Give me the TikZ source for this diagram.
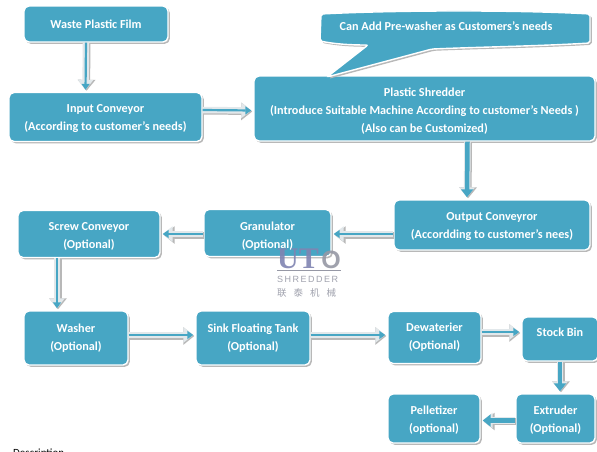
\documentclass[tikz,border=0pt]{standalone}
\usepackage{fontspec}
\setmainfont{Carlito}
\newfontfamily\cjk{Noto Sans CJK SC}
\usetikzlibrary{arrows.meta,shadows,positioning}
\definecolor{uto_teal}{RGB}{71,166,196}
\definecolor{uto_rim}{RGB}{226,232,235}
\definecolor{uto_mark}{RGB}{150,152,165}
\definecolor{uto_blue}{RGB}{128,132,178}
\newcommand{\boxgap}[1]{\mbox{}\\[#1]}
\tikzset{
  flowbox/.style={draw=white,line width=1.4pt,fill=uto_teal,rounded corners=5pt,text=white,font=\bfseries\fontsize{12.2}{18}\selectfont,align=center,inner sep=0pt,drop shadow={shadow xshift=1.8pt,shadow yshift=-1.8pt,fill=black!28,opacity=1}},
  flowline/.style={preaction={draw=black!28,line width=7pt,-{Triangle[width=17pt,length=11pt]},transform canvas={xshift=1pt,yshift=-1pt}},preaction={draw=uto_rim,line width=6.5pt,-{Triangle[width=15pt,length=10pt]}},draw=uto_teal,line width=2.2pt,-{Triangle[width=8pt,length=6pt]},shorten >=2pt},
  flowthick/.style={flowline,line width=4.5pt,-{Triangle[width=12pt,length=8pt]}},
  markfont/.style={text=uto_mark,inner sep=0pt,opacity=0.9}
}
\begin{document}
\begin{tikzpicture}[x=1pt,y=-1pt]
  \useasboundingbox (0,0) rectangle (597,451);
  \fill[white] (0,0) rectangle (597,451);
  \node[flowbox,minimum width=144pt,minimum height=36pt] (waste) at (96,24) {Waste Plastic Film};
  \node[flowbox,minimum width=193pt,minimum height=49pt] (input) at (105.5,117) {\boxgap{-6pt}Input Conveyor\\(According to customer’s needs)};
  \node[flowbox,minimum width=341pt,minimum height=65pt] (shredder) at (424.5,108.5) {\boxgap{-4pt}Plastic Shredder\\(Introduce Suitable Machine According to customer’s Needs )\\(Also can be Customized)};
  \fill[black!28,rounded corners=2pt,shift={(1.8,1.8)}] (321,14) .. controls (400,10) and (520,10) .. (590,14) -- (590,43) .. controls (540,46) and (480,47) .. (432,49) -- (327,77) -- (368,45) .. controls (350,45) and (335,44) .. (320,41) -- cycle;
  \draw[white,fill=uto_teal,line width=1.4pt,rounded corners=2pt] (321,14) .. controls (400,10) and (520,10) .. (590,14) -- (590,43) .. controls (540,46) and (480,47) .. (432,49) -- (327,77) -- (368,45) .. controls (350,45) and (335,44) .. (320,41) -- cycle;
  \node[text=white,font=\bfseries\fontsize{12.2}{18}\selectfont,inner sep=0pt] (addwasher) at (446,26) {Can Add Pre-washer as Customers’s needs};
  \node[flowbox,minimum width=196pt,minimum height=50pt] (output) at (492,225) {\boxgap{-6pt}Output Conveyror\\(Accordding to customer’s nees)};
  \node[flowbox,minimum width=127pt,minimum height=47pt] (granulator) at (267.5,233) {\boxgap{-4pt}Granulator\\(Optional)};
  \node[flowbox,minimum width=142pt,minimum height=47pt] (screw) at (89,234) {\boxgap{-6pt}Screw Conveyor\\(Optional)};
  \node[flowbox,minimum width=104pt,minimum height=54pt] (washer) at (76,338) {Washer\\(Optional)};
  \node[flowbox,minimum width=114pt,minimum height=54pt] (sink) at (253,338) {Sink Floating Tank\\(Optional)};
  \node[flowbox,minimum width=93pt,minimum height=52pt] (dewaterier) at (434.5,337.5) {Dewaterier\\(Optional)};
  \node[flowbox,minimum width=76pt,minimum height=44pt] (stock) at (560,339) {\boxgap{-4pt}Stock Bin\\\phantom{(Optional)}};
  \node[flowbox,minimum width=79pt,minimum height=49pt] (extruder) at (555.5,418.5) {\boxgap{-6pt}Extruder\\(Optional)};
  \node[flowbox,minimum width=92pt,minimum height=49pt] (pelletizer) at (434,418.5) {\boxgap{-6pt}Pelletizer\\(optional)};
  \draw[flowline] ([xshift=-10pt]waste.south) -- ([xshift=-20pt]input.north);
  \draw[flowline] ([yshift=7pt]input.east) -- ([yshift=-2pt]shredder.west);
  \draw[flowthick] ([xshift=43pt]shredder.south) -- ([xshift=-25pt]output.north);
  \draw[flowline] ([yshift=-9pt]output.west) -- ([yshift=-1pt]granulator.east);
  \draw[flowline] ([yshift=-1pt]granulator.west) -- (screw.east);
  \draw[flowline] ([xshift=-32pt]screw.south) -- ([xshift=-19pt]washer.north);
  \draw[flowline] ([yshift=3pt]washer.east) -- ([yshift=3pt]sink.west);
  \draw[flowline] ([yshift=3pt]sink.east) -- ([yshift=2.5pt]dewaterier.west);
  \draw[flowline] ([yshift=5.5pt]dewaterier.east) -- ([yshift=7pt]stock.west);
  \draw[flowthick] (stock.south) -- ([xshift=4.5pt]extruder.north);
  \draw[flowthick] ([yshift=-2pt]extruder.west) -- ([yshift=-2pt]pelletizer.east);
  \node[markfont,text=uto_blue,font=\bfseries\fontspec{Liberation Serif}\fontsize{30}{30}\selectfont,anchor=base west] (markut) at (277,268.5) {UT};
  \node[markfont,font=\bfseries\fontspec{Liberation Sans}\fontsize{25}{25}\selectfont,anchor=base east] (marko) at (341,268.5) {O};
  \draw[uto_mark,line width=1.2pt] (markut.base west) ++(0,2) -- (341,270.5);
  \node[markfont,font=\fontspec{Liberation Sans}\fontsize{9}{9}\selectfont,anchor=west] (markname) at (277,279.5) {S\,H\,R\,E\,D\,D\,E\,R};
  \node[markfont,font=\cjk\fontsize{9.5}{9.5}\selectfont,anchor=west] (markcn) at (277,293) {联\hspace{7pt}泰\hspace{7pt}机\hspace{7pt}械};
  \node[font=\fontsize{11}{13}\selectfont,anchor=base west,inner sep=0pt] (description) at (13,456.5) {Description};
\end{tikzpicture}
\end{document}
